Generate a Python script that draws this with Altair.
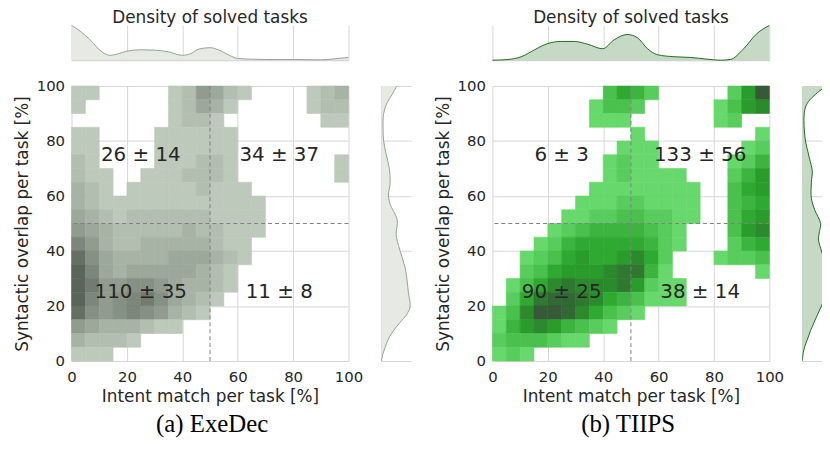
import altair as alt
import pandas as pd

ticks = [0, 20, 40, 60, 80, 100]
split = [50]
cell = 5  # grid step (%) of the density levels

# 2D density level (0 = empty, 1..9, A = 10), rows from top (y 95-100) to bottom (y 0-5),
# columns from x 0-5 to x 95-100
exedec_levels = [
    "11000001254210000123",
    "10000001243100000122",
    "00000001221000000011",
    "11000011111100000000",
    "11000011111100000000",
    "21000011122100000001",
    "21100111222100000001",
    "32101111121110000000",
    "32111111111111000000",
    "43212222221111000000",
    "54322222322111000000",
    "75322333332110000000",
    "96433334443210000000",
    "A7434444432100000000",
    "A8556654332100000000",
    "A7567864321000000000",
    "96567653210000000000",
    "54333211000000000000",
    "32221000000000000000",
    "11100000000000000000",
]
tiips_levels = [
    "0000000035420000026A",
    "00000001332000001367",
    "00000001110000001200",
    "00000000001000000001",
    "00000000011100000012",
    "00000000121100000124",
    "00000000121111000246",
    "00000001111111100356",
    "00000011122111100345",
    "00000112233221100356",
    "00001234444321000367",
    "00012455555421000245",
    "00123565567520001223",
    "00235666788410000001",
    "01357877786211000000",
    "02589987543111000000",
    "137AA975321000000000",
    "14676432100000000000",
    "23332110000000000000",
    "12100000000000000000",
]

quad_x = [25, 75, 25, 75]
quad_y = [75, 75, 25, 25]
exedec_counts = ["26 ± 14", "34 ± 37", "110 ± 35", "11 ± 8"]
tiips_counts = ["6 ± 3", "133 ± 56", "90 ± 25", "38 ± 14"]

# marginal densities (relative)
exedec_top_x = [0, 2, 5, 8, 10, 12, 14, 17, 20, 25, 30, 35, 40, 43, 46, 50, 53, 57, 60, 65, 70, 80, 90, 95, 100]
exedec_top_d = [1.0, 0.9, 0.71, 0.48, 0.30, 0.19, 0.14, 0.19, 0.26, 0.30, 0.29, 0.24, 0.14, 0.19, 0.32, 0.36,
                0.30, 0.14, 0.05, 0.03, 0.02, 0.02, 0.01, 0.04, 0.08]
tiips_top_x = [0, 5.6, 10.4, 15.2, 20, 24.8, 29.6, 34.4, 39.8, 44, 48.7, 52.3, 56, 59.5, 65.5, 71.5, 77.5,
               82.3, 85.9, 90.7, 95.4, 100]
tiips_top_d = [0, 0.02, 0.10, 0.30, 0.48, 0.54, 0.54, 0.46, 0.33, 0.59, 0.74, 0.65, 0.33, 0.16, 0.10, 0.08,
               0.03, 0.0, 0.02, 0.33, 0.76, 1.0]
exedec_right_y = [0, 2, 5, 8, 11, 14, 17, 20, 25, 30, 34, 38, 42, 46, 50, 52, 57, 60, 65, 70, 75, 80, 85, 90,
                  94, 97, 100]
exedec_right_d = [0, 0.04, 0.13, 0.24, 0.41, 0.63, 0.86, 0.97, 0.91, 0.86, 0.80, 0.69, 0.58, 0.50, 0.54, 0.52,
                  0.30, 0.24, 0.30, 0.27, 0.17, 0.08, 0.06, 0.08, 0.20, 0.37, 0.52]
tiips_right_y = [0, 3, 5, 8, 11, 14, 17, 20, 22, 25, 30, 35, 37, 40, 44, 47, 50, 55, 59, 65, 69, 74, 81, 90,
                 93.5, 96.5, 100]
tiips_right_d = [0, 0.04, 0.08, 0.18, 0.28, 0.40, 0.52, 0.65, 0.72, 0.80, 0.85, 0.80, 0.73, 0.65, 0.55, 0.58,
                 0.62, 0.42, 0.31, 0.31, 0.34, 0.24, 0.10, 0.07, 0.16, 0.40, 0.80]

exedec_colors = ["#bdc9bb", "#b2beb0", "#a7b3a5", "#9ca89a", "#919c8f", "#869185", "#7c867a", "#717b6f",
                 "#666f64", "#5b645a"]
tiips_colors = ["#67d86b", "#58cc5c", "#4ac04d", "#3cb43f", "#30a932", "#2a9c2b", "#2b8a2c", "#2e782f",
                "#316833", "#365a37"]

TXT = "#262626"
GRID = "#d6d6d6"
W, H = 279, 277


def grid_df(rows):
    recs = []
    n = len(rows)
    for r, row in enumerate(rows):
        y0 = (n - 1 - r) * cell
        for c, ch in enumerate(row):
            lv = int(ch, 16)
            if lv:
                recs.append({"x": c * cell, "x2": c * cell + cell, "y": y0, "y2": y0 + cell, "level": lv})
    return pd.DataFrame(recs)


def panel(levels, counts, top_x, top_d, right_y, right_d, cmap, fill, line, right_w, right_max, caption):
    xs = alt.Scale(domain=[0, 100], nice=False)
    X = alt.X("x:Q", scale=xs, axis=alt.Axis(values=ticks, title="Intent match per task [%]", grid=True,
                                            ticks=False, domain=False, labelFlush=False,
                                            labelPadding=9, titlePadding=4))
    Y = alt.Y("y:Q", scale=xs, axis=alt.Axis(values=ticks, title="Syntactic overlap per task [%]", grid=True,
                                            ticks=False, domain=False, labelFlush=False,
                                            labelPadding=7, titlePadding=5))
    lvl_scale = alt.Scale(domain=list(range(1, 11)), range=cmap)
    heat = alt.Chart(grid_df(levels)).mark_rect(strokeWidth=0.6).encode(
        x=X, x2="x2:Q", y=Y, y2="y2:Q",
        color=alt.Color("level:O", scale=lvl_scale, legend=None),
        stroke=alt.Stroke("level:O", scale=lvl_scale, legend=None),
    )
    vrule = alt.Chart(pd.DataFrame({"x": split})).mark_rule(
        color="#808080", strokeDash=[4, 3], strokeWidth=1).encode(x=X)
    hrule = alt.Chart(pd.DataFrame({"y": split})).mark_rule(
        color="#808080", strokeDash=[4, 3], strokeWidth=1).encode(y=Y)
    txt = alt.Chart(pd.DataFrame({"x": quad_x, "y": quad_y, "label": counts})).mark_text(
        fontSize=20, color=TXT).encode(x=X, y=Y, text="label:N")
    main = alt.layer(heat, vrule, hrule, txt).properties(width=W, height=H)

    top = alt.Chart(pd.DataFrame({"x": top_x, "d": top_d})).mark_area(
        interpolate="monotone", color=fill, opacity=1, line={"color": line, "strokeWidth": 1}).encode(
        x=alt.X("x:Q", scale=xs, axis=alt.Axis(values=ticks, labels=False, ticks=False, title=None,
                                               domain=True, grid=True, minExtent=0, maxExtent=0)),
        y=alt.Y("d:Q", scale=alt.Scale(domain=[0, 1], nice=False), axis=None),
    ).properties(width=W, height=35, title=alt.TitleParams(
        "Density of solved tasks", fontSize=17, fontWeight="normal", anchor="middle", offset=-4, color=TXT))

    rdf = pd.DataFrame({"y": right_y, "d": right_d})
    RY = alt.Y("y:Q", scale=xs, axis=alt.Axis(values=ticks, labels=False, ticks=False, title=None,
                                               domain=True, grid=True, minExtent=0, maxExtent=0))
    RX = alt.X("d:Q", scale=alt.Scale(domain=[0, right_max], nice=False), axis=None)
    rfill = alt.Chart(rdf).mark_area(
        interpolate="catmull-rom", orient="horizontal", clip=True, color=fill, opacity=1).encode(
        y=RY, x=RX)
    rline = alt.Chart(rdf).mark_line(
        interpolate="catmull-rom", clip=True, color=line, strokeWidth=1).encode(
        y=RY, x=RX, order=alt.Order("y:Q"))
    right = alt.layer(rfill, rline).properties(width=right_w, height=H)

    blank = alt.Chart(pd.DataFrame({"b": [0]})).mark_point(opacity=0).encode(
        x=alt.X("b:Q", axis=None), y=alt.Y("b:Q", axis=None)).properties(width=1, height=1)

    return alt.concat(top, blank, main, right, columns=2, align="each",
                      spacing={"row": 17, "column": 15},
                      title=alt.TitleParams(caption, orient="bottom", anchor="middle", fontSize=25,
                                            font="Liberation Serif", fontWeight="normal", offset=8,
                                            color="black"))


pa = panel(exedec_levels, exedec_counts, exedec_top_x, exedec_top_d, exedec_right_y, exedec_right_d,
           exedec_colors, "#e6e9e4", "#93a391", 30, 1.0, "(a) ExeDec")
pb = panel(tiips_levels, tiips_counts, tiips_top_x, tiips_top_d, tiips_right_y, tiips_right_d,
           tiips_colors, "#c5d9c4", "#1f6b1f", 20, 20 / 30, "(b) TIIPS")

chart = alt.hconcat(pa, pb, spacing=23).resolve_scale(
    color="independent", stroke="independent"
).properties(
    padding={"left": 5, "top": 0, "right": 0, "bottom": 0}, background="white"
).configure(font="DejaVu Sans").configure_view(strokeWidth=0).configure_axis(
    labelFontSize=15, titleFontSize=17, labelColor=TXT, titleColor=TXT, titleFontWeight="normal",
    gridColor=GRID, domainColor="#c8c8c8", labelFont="DejaVu Sans", titleFont="DejaVu Sans"
)

chart.save("out.html", embed_options={"renderer": "svg", "actions": False})
